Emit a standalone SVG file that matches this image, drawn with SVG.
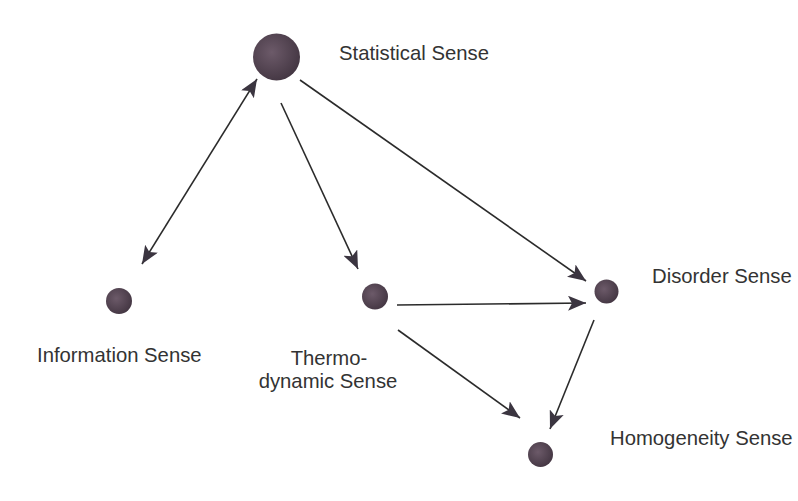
<svg xmlns="http://www.w3.org/2000/svg" width="798" height="501" viewBox="0 0 798 501">
<style>
.lbl{font-family:"Liberation Sans",Arial,sans-serif;font-size:20.3px;fill:#333;}
.edge{stroke:#2b2b2b;stroke-width:1.6;fill:none;marker-end:url(#ah);}
</style>
<defs>
<marker id="ah" markerUnits="userSpaceOnUse" markerWidth="19" markerHeight="15" refX="18" refY="7.5" orient="auto-start-reverse">
<path d="M0,0 L18,7.5 L0,15 L4,7.5 Z" fill="#3b3540"/>
</marker>
<radialGradient id="g" cx="0.4" cy="0.4" r="0.7">
<stop offset="0" stop-color="#6c5a69"/>
<stop offset="1" stop-color="#40333f"/>
</radialGradient>
</defs>
<rect width="798" height="501" fill="#fff"/>
<g id="connectors">
<line class="edge" x1="142" y1="264" x2="257" y2="79" style="marker-start:url(#ah)"/>
<line class="edge" x1="281" y1="103" x2="358" y2="269"/>
<line class="edge" x1="300" y1="80" x2="586" y2="281"/>
<line class="edge" x1="397" y1="305" x2="586" y2="303"/>
<line class="edge" x1="398" y1="330" x2="520" y2="418"/>
<line class="edge" x1="594" y1="320" x2="550" y2="429"/>
</g>
<g id="statistical"><circle cx="276.5" cy="57" r="23.5" fill="url(#g)"/><text class="lbl" x="339" y="60">Statistical Sense</text></g>
<g id="information"><circle cx="119" cy="301" r="13" fill="url(#g)"/><text class="lbl" x="37" y="362">Information Sense</text></g>
<g id="thermodynamic"><circle cx="375" cy="296.5" r="13" fill="url(#g)"/><text class="lbl" text-anchor="middle" x="329" y="365">Thermo-</text><text class="lbl" text-anchor="middle" x="328" y="388">dynamic Sense</text></g>
<g id="disorder"><circle cx="606.5" cy="291.5" r="12" fill="url(#g)"/><text class="lbl" x="652" y="283">Disorder Sense</text></g>
<g id="homogeneity"><circle cx="540.5" cy="454.5" r="12.5" fill="url(#g)"/><text class="lbl" x="610" y="445">Homogeneity Sense</text></g>
</svg>
